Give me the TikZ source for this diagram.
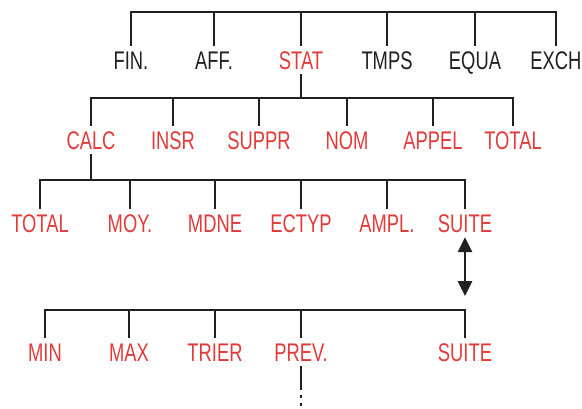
\documentclass[tikz,border=0pt]{standalone}
\usepackage{fontspec}
\newfontfamily\menufont[FakeStretch=0.72]{Liberation Sans}
\usetikzlibrary{arrows.meta}
\definecolor{menured}{RGB}{226,58,58}
\definecolor{menublack}{RGB}{35,31,32}

\tikzset{
  key/.style={font=\menufont\fontsize{25.5}{25.5}\selectfont, text height=18pt, text depth=0pt,
    inner xsep=0pt, inner ysep=5pt, text=menublack},
  redkey/.style={key, text=menured},
  branch/.style={line width=2.7pt, draw=menublack}
}

\begin{document}
\begin{tikzpicture}[x=1pt,y=-1pt]
\useasboundingbox (0,0) rectangle (582,408);
% row 1
\node[key] (fin) at (131,60) {FIN.};
\node[key] (aff) at (214,60) {AFF.};
\node[redkey] (stat) at (301,60) {STAT};
\node[key] (tmps) at (387,60) {TMPS};
\node[key] (equa) at (475,60) {EQUA};
\node[key] (exch) at (556,60) {EXCH};
\coordinate (top) at (0,12);
\draw[branch] (fin.north) -- (fin.north |- top) -| (exch.north);
\foreach \n in {aff,stat,tmps,equa}
  \draw[branch] (\n.north) -- (\n.north |- top);
% row 2
\node[redkey] (calc) at (91,140) {CALC};
\node[redkey] (insr) at (173,140) {INSR};
\node[redkey] (suppr) at (259,140) {SUPPR};
\node[redkey] (nom) at (347,140) {NOM};
\node[redkey] (appel) at (433,140) {APPEL};
\node[redkey] (total) at (513,140) {TOTAL};
\coordinate (bartwo) at (0,98);
\draw[branch] (stat.south) -- (stat.south |- bartwo);
\draw[branch] (calc.north) -- (calc.north |- bartwo) -| (total.north);
\foreach \n in {insr,suppr,nom,appel}
  \draw[branch] (\n.north) -- (\n.north |- bartwo);
% row 3
\node[redkey] (tot) at (40,223) {TOTAL};
\node[redkey] (moy) at (130,223) {MOY.};
\node[redkey] (mdne) at (215,223) {MDNE};
\node[redkey] (ectyp) at (301,223) {ECTYP};
\node[redkey] (ampl) at (387,223) {AMPL.};
\node[redkey] (suite) at (465,223) {SUITE};
\coordinate (barthree) at (0,180);
\draw[branch] (calc.south) -- (calc.south |- barthree);
\draw[branch] (tot.north) -- (tot.north |- barthree) -| (suite.north);
\foreach \n in {moy,mdne,ectyp,ampl}
  \draw[branch] (\n.north) -- (\n.north |- barthree);
% row 4
\node[redkey] (min) at (45,352) {MIN};
\node[redkey] (max) at (129,352) {MAX};
\node[redkey] (trier) at (215,352) {TRIER};
\node[redkey] (prev) at (301,352) {PREV.};
\node[redkey] (suitetwo) at (465,352) {SUITE};
\coordinate (barfour) at (0,310);
\draw[branch] (min.north) -- (min.north |- barfour) -| (suitetwo.north);
\foreach \n in {max,trier,prev}
  \draw[branch] (\n.north) -- (\n.north |- barfour);
% link between the two pages
\coordinate (link) at (465,296);
\draw[branch, {Triangle[length=15pt,width=14pt]}-{Triangle[length=15pt,width=14pt]}]
  (suite.south) -- (link);
% more below PREV.
\coordinate (dots) at (301,390);
\draw[branch] (prev.south) -- (dots);
\draw[branch, dash pattern=on 3pt off 5pt] ([yshift=3]dots) -- (301,408);
\end{tikzpicture}
\end{document}
